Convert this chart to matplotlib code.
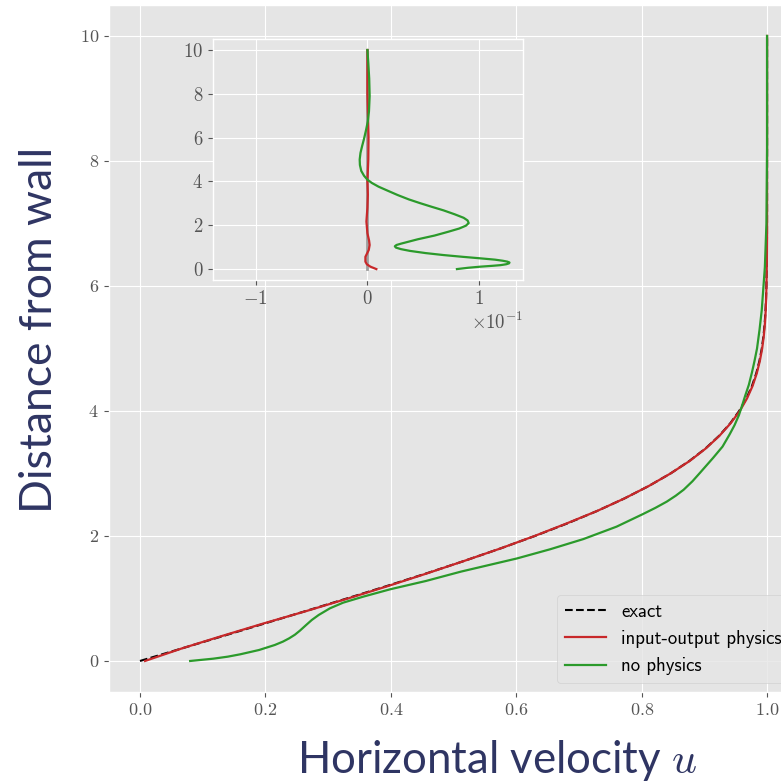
import numpy as np
import matplotlib
matplotlib.use("Agg")
import matplotlib.pyplot as plt

# ---------------------------------------------------------
# Boundary layer profile: exact vs. network predictions
# ---------------------------------------------------------

# exact (Blasius) profile
y_exact = [0.0, 0.2, 0.4, 0.6, 0.8, 1.0, 1.2, 1.4, 1.6, 1.8, 2.0, 2.2, 2.4, 2.6,
           2.8, 3.0, 3.2, 3.4, 3.6, 3.8, 4.0, 4.2, 4.4, 4.6, 4.8, 5.0, 5.2, 5.4,
           5.6, 5.8, 6.0, 6.4, 6.8, 7.2, 7.6, 8.0, 9.0, 10.0]
u_exact = [0.0, 0.0664, 0.1328, 0.1989, 0.2647, 0.3298, 0.3938, 0.4563, 0.5168,
           0.5748, 0.6298, 0.6813, 0.7290, 0.7725, 0.8115, 0.8461, 0.8761, 0.9018,
           0.9233, 0.9411, 0.9555, 0.9670, 0.9759, 0.9827, 0.9878, 0.9916, 0.9943,
           0.9962, 0.9975, 0.9984, 0.9990, 0.9996, 0.9999, 1.0, 1.0, 1.0, 1.0, 1.0]

# network with input-output physics (same heights as exact)
u_io = [0.008, 0.0665, 0.1308, 0.1969, 0.2657, 0.3318, 0.3958, 0.4573, 0.5168,
        0.5748, 0.6293, 0.6803, 0.7290, 0.7725, 0.8115, 0.8461, 0.8766, 0.9023,
        0.9238, 0.9416, 0.9565, 0.9680, 0.9769, 0.9835, 0.9885, 0.9922, 0.9948,
        0.9966, 0.9978, 0.9986, 0.9991, 0.9997, 1.0, 1.0, 1.0, 1.0, 1.0, 1.0]

# network without physics
y_np = [0.0, 0.037, 0.069, 0.107, 0.176, 0.256, 0.31, 0.363, 0.42, 0.485,
        0.576, 0.656, 0.736, 0.843, 0.933, 1.029, 1.147, 1.28, 1.43, 1.64,
        1.787, 1.95, 2.149, 2.35, 2.45, 2.549, 2.645, 2.74, 2.875, 3.01, 3.13,
        3.25, 3.43, 3.62, 3.77, 3.93, 4.08, 4.24, 4.42, 4.62, 4.80, 5.0, 5.3,
        5.61, 6.3, 7.0, 8.2, 10.0]
u_np = [0.080, 0.117, 0.140, 0.160, 0.190, 0.215, 0.228, 0.238, 0.247, 0.255,
        0.265, 0.274, 0.285, 0.303, 0.324, 0.356, 0.399, 0.456, 0.512, 0.601,
        0.654, 0.707, 0.760, 0.802, 0.822, 0.840, 0.8545, 0.867, 0.881, 0.893,
        0.9035, 0.914, 0.929, 0.940, 0.948, 0.955, 0.960, 0.965, 0.971, 0.976,
        0.980, 0.984, 0.988, 0.9915, 0.9965, 0.999, 1.0, 1.0]

# prediction minus exact (inset)
y_err_io = [0.0, 0.11, 0.22, 0.34, 0.56, 0.87, 1.1, 1.3, 1.64, 2.17, 2.8, 3.4,
            4.0, 5.0, 6.0, 7.0, 8.0, 10.0]
err_io = [0.0080, 0.0027, -0.0005, -0.0018, -0.0018, 0.0012, 0.0020, 0.0015,
          0.0, -0.0009, 0.0, 0.0004, 0.0, 0.0008, 0.0010, 0.0005, 0.0, 0.0]

y_err_np = [0.0, 0.06, 0.11, 0.15, 0.18, 0.22, 0.26, 0.30, 0.34, 0.38, 0.43,
            0.49, 0.56, 0.64, 0.73, 0.83, 0.91, 0.98, 1.04, 1.10, 1.16, 1.36,
            1.53, 1.70, 1.85, 1.98, 2.10, 2.22, 2.34, 2.50, 2.68, 2.85, 3.01,
            3.18, 3.38, 3.58, 3.76, 3.93, 4.08, 4.26, 4.48, 4.75, 5.0, 5.3,
            5.6, 5.95, 6.35, 6.75, 7.2, 7.9, 8.7, 9.4, 10.0]
err_np = [0.080, 0.090, 0.101, 0.112, 0.119, 0.124, 0.1265, 0.127, 0.125,
          0.121, 0.114, 0.101, 0.085, 0.068, 0.052, 0.038, 0.030, 0.0255,
          0.0245, 0.026, 0.030, 0.045, 0.060, 0.072, 0.082, 0.088, 0.0905,
          0.0895, 0.086, 0.078, 0.068, 0.057, 0.047, 0.037, 0.027, 0.018,
          0.010, 0.004, 0.0, -0.003, -0.0055, -0.0067, -0.0069, -0.0062,
          -0.0048, -0.0030, -0.0012, 0.0004, 0.0014, 0.0020, 0.0016, 0.0008,
          0.0]

RED = "#c8282a"
GREEN = "#2b9a2b"
NAVY = "#2f3563"

plt.style.use("ggplot")
plt.rcParams["font.family"] = "serif"
plt.rcParams["font.serif"] = ["cmr10"]
plt.rcParams["mathtext.fontset"] = "cm"
plt.rcParams["axes.formatter.use_mathtext"] = True

fig = plt.figure(figsize=(7.81, 7.82), dpi=100)

# main axes (runs off the right edge of the figure)
ax = fig.add_axes([0.1391, 0.1148, 0.8832, 0.8792])
ax.plot(u_exact, y_exact, color="k", ls="--", lw=1.5, label="exact")
ax.plot(u_io, y_exact, color=RED, lw=1.6, label="input-output physics")
ax.plot(u_np, y_np, color=GREEN, lw=1.6, label="no physics")
ax.set_xlim(-0.05, 1.05)
ax.set_ylim(-0.5, 10.5)
ax.set_xticks([0.0, 0.2, 0.4, 0.6, 0.8, 1.0])
ax.set_yticks([0, 2, 4, 6, 8, 10])
ax.tick_params(labelsize=13)
ax.legend(loc="lower right", prop={"family": "cmss10", "size": 13.5},
          handlelength=2.2)

# inset: error of each prediction
axin = fig.add_axes([0.2727, 0.6419, 0.3969, 0.3082])
axin.plot([0, 0], [0, 10], color="0.62", lw=2)
axin.plot(err_io, y_err_io, color=RED, lw=1.6)
axin.plot(err_np, y_err_np, color=GREEN, lw=1.6)
axin.set_xlim(-0.138, 0.139)
axin.set_ylim(-0.5, 10.5)
axin.set_xticks([-0.1, 0.0, 0.1])
axin.set_yticks([0, 2, 4, 6, 8, 10])
axin.ticklabel_format(axis="x", style="sci", scilimits=(0, 0), useMathText=True)
axin.tick_params(labelsize=13.5)
axin.xaxis.get_offset_text().set_fontsize(13.5)

fig.text(0.051, 0.578, "Distance from wall", rotation=90, ha="center",
         va="center", fontsize=32, family="Lato", color=NAVY)
fig.text(0.636, 0.011, r"Horizontal velocity $u$", ha="center",
         va="baseline", fontsize=31.5, family="Lato", color=NAVY)

fig.savefig("out.png", dpi=100)
